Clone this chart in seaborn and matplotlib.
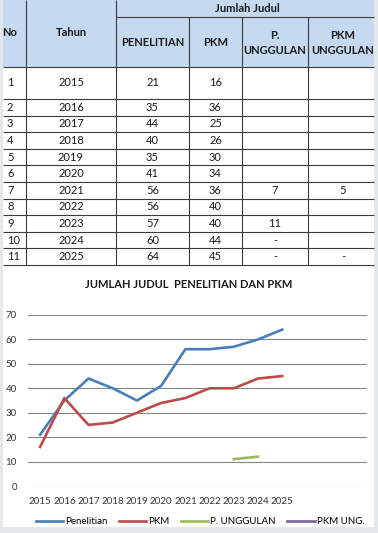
import numpy as np
import pandas as pd
import matplotlib
matplotlib.use("Agg")
import matplotlib.pyplot as plt
from matplotlib.patches import Rectangle
from matplotlib.lines import Line2D
import seaborn as sns

# data
years = ["2015", "2016", "2017", "2018", "2019", "2020", "2021", "2022", "2023", "2024", "2025"]
penelitian = [21, 35, 44, 40, 35, 41, 56, 56, 57, 60, 64]
pkm = [16, 36, 25, 26, 30, 34, 36, 40, 40, 44, 45]
p_unggulan = [np.nan] * 6 + [7, np.nan, 11, 12, np.nan]
pkm_ung = [np.nan] * 6 + [5, np.nan, np.nan, np.nan, np.nan]

# table text for the two "unggulan" columns
p_unggulan_txt = ["", "", "", "", "", "", "7", "", "11", "-", "-"]
pkm_ung_txt = ["", "", "", "", "", "", "5", "", "", "", "-"]

series_names = ["Penelitian", "PKM", "P. UNGGULAN", "PKM UNG."]
colors = ["#4a7ebb", "#be4b48", "#9bbb59", "#7d60a0"]

W, H = 378, 533
FONT = "Lato"
TXT = "#1a1a1a"

fig = plt.figure(figsize=(W / 100, H / 100), dpi=100, facecolor="#e3e8ed")

# canvas in pixel coordinates for the white sheet and the table
cv = fig.add_axes([0, 0, 1, 1])
cv.set_xlim(0, W)
cv.set_ylim(H, 0)
cv.axis("off")
cv.add_patch(Rectangle((3, 0), 371, 527, facecolor="white", edgecolor="none"))
cv.add_patch(Rectangle((3, 0), 371, 67, facecolor="#c5d9f1", edgecolor="none"))

col_edges = [3, 26, 116, 189, 242, 308, 378]
row_edges = [67, 99] + list(np.linspace(99, 265, 11)[1:])
line_kw = dict(color="#3a3a3a", lw=0.8, solid_capstyle="butt")

for x in col_edges[1:3]:
    cv.plot([x, x], [0, 265], **line_kw)
for x in col_edges[3:6]:
    cv.plot([x, x], [17, 265], **line_kw)
cv.plot([116, 374], [17, 17], **line_kw)
for y in row_edges:
    cv.plot([3, 374], [y, y], **line_kw)

hkw = dict(fontsize=8, fontweight="bold", color=TXT, family=FONT, va="center")
cv.text(2, 33, "No", ha="left", **hkw)
cv.text(71, 33, "Tahun", ha="center", **hkw)
cv.text(247, 9, "Jumlah Judul", ha="center", **hkw)
cv.text(152.5, 43, "PENELITIAN", ha="center", **hkw)
cv.text(215.5, 43, "PKM", ha="center", **hkw)
cv.text(275, 43, "P.\nUNGGULAN", ha="center", linespacing=1.4, **hkw)
cv.text(343, 43, "PKM\nUNGGULAN", ha="center", linespacing=1.4, **hkw)

bkw = dict(fontsize=8, color=TXT, family=FONT, va="center")
for i, yr in enumerate(years):
    yc = (row_edges[i] + row_edges[i + 1]) / 2
    cv.text(7, yc, str(i + 1), ha="left", **bkw)
    cv.text(71, yc, yr, ha="center", **bkw)
    cv.text(152.5, yc, str(penelitian[i]), ha="center", **bkw)
    cv.text(215.5, yc, str(pkm[i]), ha="center", **bkw)
    cv.text(275, yc, p_unggulan_txt[i], ha="center", **bkw)
    cv.text(343, yc, pkm_ung_txt[i], ha="center", **bkw)

# long-form data for the chart, with a segment id so gaps stay open
frames = []
for name, vals in zip(series_names, [penelitian, pkm, p_unggulan, pkm_ung]):
    s = pd.Series(vals, dtype=float)
    frames.append(pd.DataFrame({"Tahun": years, "value": s, "series": name,
                                "seg": s.isna().cumsum()}))
df = pd.concat(frames).dropna(subset=["value"])

ax = fig.add_axes([28 / W, 1 - 486 / H, 339 / W, 171 / H])
ax.set_facecolor("none")
sns.lineplot(data=df, x="Tahun", y="value", hue="series", units="seg",
             estimator=None, hue_order=series_names, palette=colors,
             linewidth=1.9, legend=False, ax=ax, sort=False)
ax.set_xlim(-0.5, 13.5)
ax.set_ylim(0, 70)
ax.set_yticks(range(0, 71, 10))
ax.set_xticks(range(len(years)))
ax.set_xticklabels(years)
ax.set_xlabel("")
ax.set_ylabel("")
ax.grid(axis="y", color="#868686", lw=0.8)
ax.grid(axis="x", visible=False)
ax.set_axisbelow(True)
for sp in ax.spines.values():
    sp.set_visible(False)
ax.tick_params(length=0, labelsize=7, labelcolor="#333333")
ax.tick_params(axis="y", pad=8)
ax.tick_params(axis="x", pad=8)
for lab in ax.get_xticklabels() + ax.get_yticklabels():
    lab.set_family(FONT)

fig.text(189 / W, 1 - 285 / H, "JUMLAH JUDUL  PENELITIAN DAN PKM", ha="center",
         va="center", fontsize=8, fontweight="bold", color=TXT, family=FONT)

handles = [Line2D([], [], color=c, lw=1.9) for c in colors]
fig.legend(handles, series_names, loc="center", bbox_to_anchor=(200 / W, 1 - 522 / H),
           ncol=4, frameon=False, handlelength=2.8, handletextpad=0.2,
           columnspacing=1.2, prop={"family": FONT, "size": 7})

fig.savefig("out.png", dpi=100, facecolor=fig.get_facecolor())
